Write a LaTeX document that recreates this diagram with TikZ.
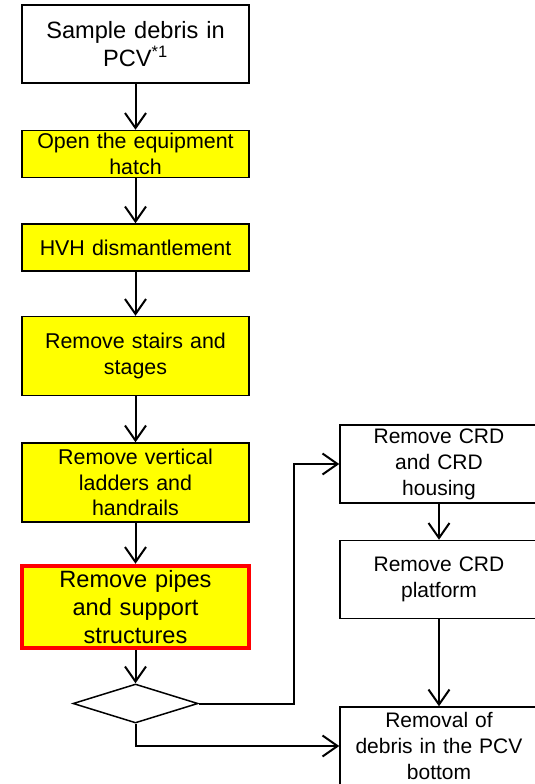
\documentclass[tikz,border=0pt]{standalone}
\usepackage{fontspec}
\setmainfont{Liberation Sans}
\usepackage{tikz}
\usetikzlibrary{arrows.meta,positioning,shapes.geometric}
\definecolor{StepYellow}{HTML}{FFFF00}
\definecolor{AlertRed}{HTML}{FF0000}

\begin{document}
\begin{tikzpicture}[
  box/.style={draw,line width=1.5pt,inner sep=0pt,minimum width=227pt,text width=221pt,align=center,font=\fontsize{21.4}{25.7}\selectfont},
  bigtext/.style={font=\fontsize{23.6}{28.3}\selectfont},
  work/.style={box,fill=StepYellow},
  sidebox/.style={box,minimum width=198pt,text width=192pt,minimum height=78pt,font=\fontsize{21}{26}\selectfont},
  arrow/.style={-{Straight Barb[length=15pt,width=21pt,line width=2pt]},line width=2pt}
]
\clip (0,0) rectangle (535pt,-784pt);
\node[box,bigtext,minimum height=78pt] (sample) at (135.5pt,-44pt) {Sample debris in\\PCV\textsuperscript{*1}};
\node[work,minimum height=47pt,below=46pt of sample] (hatch) {Open the equipment\\hatch};
\node[work,minimum height=47pt,below=45pt of hatch] (hvh) {HVH dismantlement};
\node[work,minimum height=79pt,below=44pt of hvh] (stairs) {Remove stairs and\\stages};
\node[work,minimum height=79pt,below=46pt of stairs] (ladders) {Remove vertical\\ladders and\\handrails};
\node[work,bigtext,draw=AlertRed,line width=4.5pt,minimum height=82pt,below=41pt of ladders] (pipes) {Remove pipes\\and support\\structures};
\node[diamond,draw,line width=1.5pt,inner sep=0pt,aspect=3.2,minimum width=125pt,minimum height=39pt,below=33pt of pipes] (check) {};
\node[sidebox] (crd) at (439pt,-464pt) {Remove CRD\\and CRD\\housing};
\node[sidebox,below=36pt of crd] (platform) {Remove CRD\\platform};
\node[sidebox,below=87pt of platform] (bottom) {Removal of\\debris in the PCV\\bottom};
\draw[arrow] (sample) -- (hatch);
\draw[arrow] (hatch) -- (hvh);
\draw[arrow] (hvh) -- (stairs);
\draw[arrow] (stairs) -- (ladders);
\draw[arrow] (ladders) -- (pipes);
\draw[arrow] (pipes) -- (check);
\draw[arrow] (check.east) -| ([xshift=-45pt]crd.west) -- (crd.west);
\draw[arrow] (check.south) |- (bottom.west);
\draw[arrow] (crd) -- (platform);
\draw[arrow] (platform) -- (bottom);
\end{tikzpicture}
\end{document}
